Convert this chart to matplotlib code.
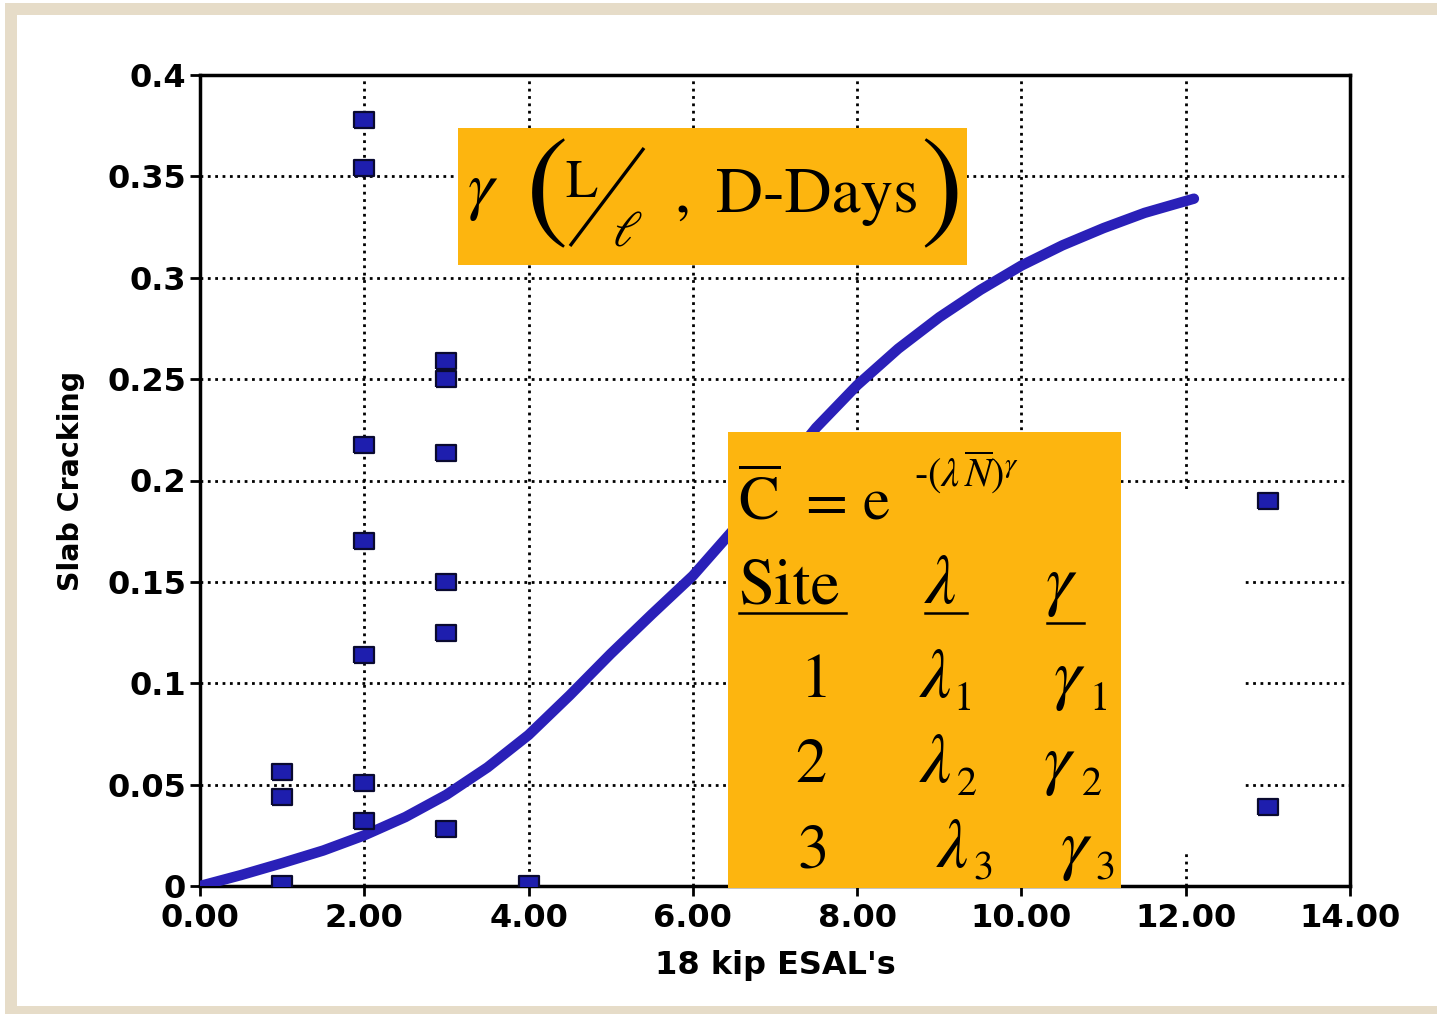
import matplotlib.pyplot as plt
import matplotlib.patches as mpatches

plt.rcParams['mathtext.fontset'] = 'stix'

# measured slab cracking per site / traffic level
esal_x = [1, 1, 1,
          2, 2, 2, 2, 2, 2, 2,
          3, 3, 3, 3, 3, 3,
          4,
          13, 13]
cracking_y = [0.056, 0.044, 0.001,
              0.378, 0.354, 0.2175, 0.170, 0.114, 0.051, 0.032,
              0.259, 0.250, 0.2135, 0.150, 0.125, 0.028,
              0.001,
              0.190, 0.039]

# fitted performance curve
curve_x = [0, 0.5, 1, 1.5, 2, 2.5, 3, 3.5, 4, 4.5, 5, 5.5, 6, 6.5, 7,
           7.5, 8, 8.5, 9, 9.5, 10, 10.5, 11, 11.5, 12.1]
curve_y = [0, 0.0054, 0.0113, 0.0175, 0.025, 0.034, 0.045, 0.0585, 0.0745,
           0.094, 0.1145, 0.134, 0.153, 0.176, 0.201, 0.226, 0.247, 0.265,
           0.2805, 0.294, 0.306, 0.316, 0.3245, 0.332, 0.339]

x_ticks = [0, 2, 4, 6, 8, 10, 12, 14]
x_tick_labels = ['0.00', '2.00', '4.00', '6.00', '8.00', '10.00', '12.00', '14.00']
y_ticks = [0, 0.05, 0.1, 0.15, 0.2, 0.25, 0.3, 0.35, 0.4]
y_tick_labels = ['0', '0.05', '0.1', '0.15', '0.2', '0.25', '0.3', '0.35', '0.4']

W, H = 1437, 1014
ORANGE = '#FDB50F'
BEIGE = '#E6DCC8'
BLUE = '#2A20B8'

fig = plt.figure(figsize=(W / 100, H / 100), dpi=100)
fig.patch.set_facecolor('white')

ax = fig.add_axes([200 / W, 1 - 886 / H, 1150 / W, 811 / H])
ax.set_zorder(1)

ax.plot(curve_x, curve_y, color=BLUE, lw=7.5, solid_capstyle='round',
        solid_joinstyle='round', zorder=3)

rect_marker = [(-1, -0.75), (1, -0.75), (1, 0.75), (-1, 0.75), (-1, -0.75)]
ax.plot(esal_x, cracking_y, linestyle='none', marker=rect_marker, ms=14.5,
        mfc='#1E1EAE', mec='#0A0A30', mew=1.6, zorder=4)

ax.set_xlim(0, 14)
ax.set_ylim(0, 0.4)
ax.set_xticks(x_ticks)
ax.set_xticklabels(x_tick_labels)
ax.set_yticks(y_ticks)
ax.set_yticklabels(y_tick_labels)
ax.grid(True, linestyle=':', color='black', lw=2.0)
for s in ax.spines.values():
    s.set_linewidth(2.5)
ax.tick_params(direction='out', length=7, width=2)
ax.tick_params(axis='x', pad=5)
ax.tick_params(axis='y', pad=3)
for lab in ax.get_xticklabels() + ax.get_yticklabels():
    lab.set_fontsize(23)
    lab.set_fontweight('bold')
    lab.set_family('DejaVu Sans')
ax.set_xlabel("18 kip ESAL's", fontsize=23, fontweight='bold', labelpad=12)
ax.set_ylabel('Slab Cracking', fontsize=20.5, fontweight='bold', labelpad=16)

# pixel-space overlay for frame and equation boxes
ov = fig.add_axes([0, 0, 1, 1])
ov.set_zorder(2)
ov.set_xlim(0, W)
ov.set_ylim(H, 0)
ov.axis('off')

for x0, y0, w, h in [(5, 3, W, 12), (5, 3, 12, H), (5, 1006, W, 10)]:
    ov.add_patch(mpatches.Rectangle((x0, y0), w, h, color=BEIGE, lw=0))

# blank area beside the lower box
ov.add_patch(mpatches.Rectangle((1121, 490), 124, 364, color='white', lw=0))

serif = 'STIXGeneral'

# top box: gamma(L/l, D-Days)
ov.add_patch(mpatches.Rectangle((458, 128), 509, 137, color=ORANGE, lw=0))
ov.text(467, 207, r'$\gamma$', fontsize=48, ha='left', va='baseline')
ov.text(547, 196, '(', fontsize=92, family=serif, ha='center', va='center')
ov.text(565, 197, 'L', fontsize=38, family=serif, ha='left', va='baseline')
ov.plot([570, 644], [246, 148], color='black', lw=2.4, solid_capstyle='butt')
ov.text(612, 246, r'$\ell$', fontsize=36, ha='left', va='baseline')
ov.text(674, 212, ',', fontsize=46, family=serif, ha='left', va='baseline')
ov.text(716, 212, 'D-Days', fontsize=47, family=serif, ha='left', va='baseline')
ov.text(942, 196, ')', fontsize=92, family=serif, ha='center', va='center')

# lower box: model and site coefficients
ov.add_patch(mpatches.Rectangle((728, 432), 393, 456, color=ORANGE, lw=0))
ov.text(738, 520, r'$\overline{\mathrm{C}}$', fontsize=44, ha='left', va='baseline')
ov.text(805, 520, '=', fontsize=44, family=serif, ha='left', va='baseline')
ov.text(863, 520, 'e', fontsize=44, family=serif, ha='left', va='baseline')
ov.text(914, 487, r'-$(\lambda\,\overline{N})^{\gamma}$', fontsize=29,
        family=serif, ha='left', va='baseline')

ov.text(738, 603, 'Site', fontsize=47, family=serif, ha='left', va='baseline')
ov.text(924, 603, r'$\lambda$', fontsize=50, ha='left', va='baseline')
ov.text(1045, 603, r'$\gamma$', fontsize=50, ha='left', va='baseline')
for x0, x1, yl in [(739, 846, 613), (925, 967, 613), (1047, 1084, 623)]:
    ov.plot([x0, x1], [yl, yl], color='black', lw=1.8)

# site rows: number, lambda, gamma with their subscripts
rows = [('1', 697, 710, 800, 919, 953, 1053, 1089),
        ('2', 782, 795, 795, 919, 957, 1043, 1082),
        ('3', 867, 880, 797, 936, 973, 1060, 1095)]
for num, base, sub, xn, xl, xls, xg, xgs in rows:
    ov.text(xn, base, num, fontsize=45, family=serif, ha='left', va='baseline')
    ov.text(xl, base, r'$\lambda$', fontsize=50, ha='left', va='baseline')
    ov.text(xls, sub, num, fontsize=29, family=serif, ha='left', va='baseline')
    ov.text(xg, base, r'$\gamma$', fontsize=50, ha='left', va='baseline')
    ov.text(xgs, sub, num, fontsize=29, family=serif, ha='left', va='baseline')

plt.savefig('out.png', dpi=100, facecolor='white')
plt.close(fig)
